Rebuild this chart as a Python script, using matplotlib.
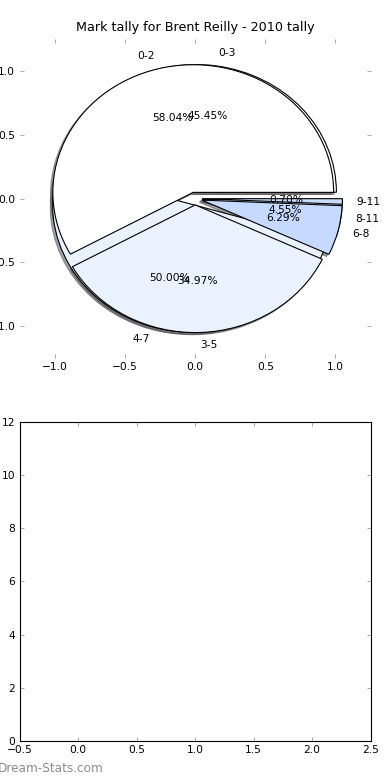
import numpy as np
import matplotlib.pyplot as plt

# marks grouped in two schemes (counts of tests)
labels_a = ['0-2', '3-5', '6-8', '9-11']
counts_a = [83, 50, 9, 1]
labels_b = ['0-3', '4-7', '8-11']
counts_b = [10, 11, 1]

colors = ['white', '#eaf1ff', '#c6d9ff', '#cbdcff']

plt.rcParams['font.size'] = 7.7
plt.rcParams['xtick.direction'] = 'in'
plt.rcParams['ytick.direction'] = 'in'
plt.rcParams['xtick.top'] = True
plt.rcParams['ytick.right'] = True

fig, (ax1, ax2) = plt.subplots(2, 1, figsize=(3.9, 7.8), dpi=100)
fig.subplots_adjust(left=0.05, right=0.95, top=0.95, bottom=0.05, hspace=0.2)

wp = {'edgecolor': 'black', 'linewidth': 0.8}
sh = {'ox': -0.012, 'oy': -0.012}
ax1.pie(counts_b, labels=labels_b, colors=colors[:3], autopct='%1.2f%%',
        explode=[0.05] * len(counts_b), shadow=sh, wedgeprops=wp)
ax1.pie(counts_a, labels=labels_a, colors=colors, autopct='%1.2f%%',
        explode=[0.05] * len(counts_a), shadow=sh, wedgeprops=wp)
ax1.set_aspect('auto')
ax1.set_xlim(-1.25, 1.25)
ax1.set_ylim(-1.25, 1.25)
ax1.set_xticks([-1.0, -0.5, 0.0, 0.5, 1.0])
ax1.set_yticks([-1.0, -0.5, 0.0, 0.5, 1.0])
ax1.set_title('Mark tally for Brent Reilly - 2010 tally', fontsize=9.2)

ax2.set_xlim(-0.5, 2.5)
ax2.set_ylim(0, 12)
ax2.set_xticks(np.arange(-0.5, 2.6, 0.5))
ax2.set_yticks(range(0, 13, 2))

for ax in (ax1, ax2):
    ax.tick_params(length=3, width=0.6, color='#999999', pad=3)

fig.text(-0.005, 0.006, 'Dream-Stats.com', color='#8c8c8c', fontsize=8.7,
         ha='left', va='bottom')

fig.savefig('out.png', dpi=100)
